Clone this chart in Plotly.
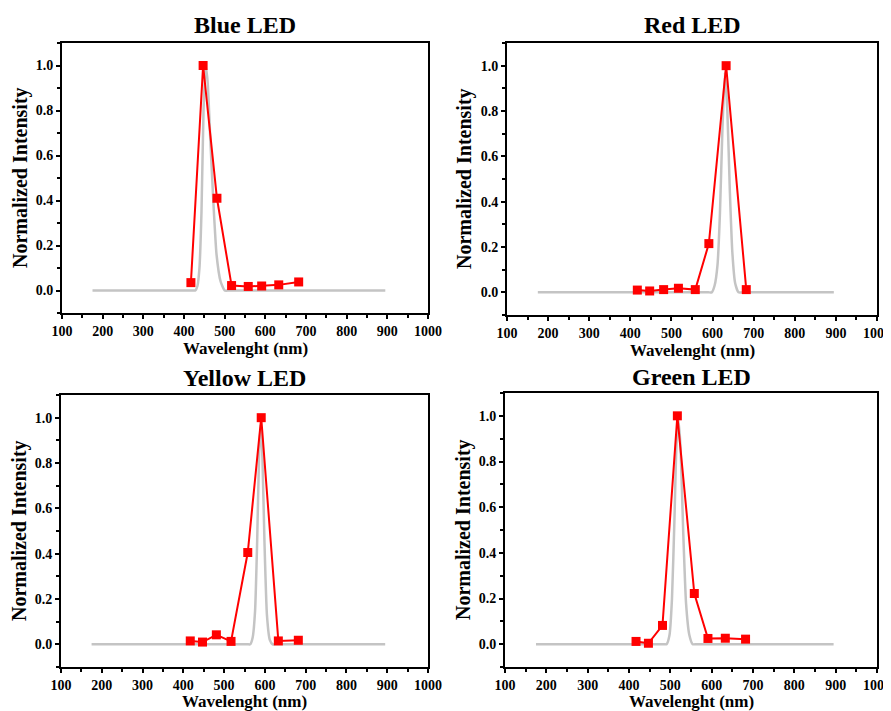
import plotly.graph_objects as go

# ---------------- data ----------------
wavelengths = [417, 447, 481, 517, 558, 591, 633, 682]

blue_vals = [0.035, 1.0, 0.41, 0.022, 0.018, 0.02, 0.025, 0.038]
red_vals = [0.01, 0.006, 0.012, 0.018, 0.012, 0.215, 1.0, 0.012]
yellow_vals = [0.015, 0.01, 0.042, 0.013, 0.405, 1.0, 0.015, 0.018]
green_vals = [0.012, 0.004, 0.082, 1.0, 0.222, 0.025, 0.026, 0.022]

blue_ref_x = [175, 300, 410, 420, 428, 433, 438, 443, 448, 453, 458, 465, 472, 480, 490, 500, 510, 520, 700, 895]
blue_ref_y = [0, 0, 0, 0, 0, 0.02, 0.1, 0.35, 0.8, 1.0, 0.93, 0.66, 0.4, 0.16, 0.04, 0, 0, 0, 0, 0]

red_ref_x = [175, 400, 570, 580, 590, 598, 605, 612, 618, 624, 630, 636, 642, 648, 655, 663, 672, 682, 800, 895]
red_ref_y = [0, 0, 0, 0, 0, 0, 0.03, 0.12, 0.35, 0.72, 0.97, 0.8, 0.45, 0.18, 0.04, 0, 0, 0, 0, 0]

yellow_ref_x = [175, 400, 540, 550, 558, 564, 570, 576, 581, 586, 590, 594, 599, 605, 612, 619, 627, 637, 800, 895]
yellow_ref_y = [0, 0, 0, 0, 0, 0, 0.03, 0.15, 0.45, 0.85, 0.97, 0.82, 0.45, 0.13, 0.02, 0, 0, 0, 0, 0]

green_ref_x = [175, 350, 465, 475, 484, 491, 498, 504, 510, 515, 520, 525, 531, 538, 546, 554, 563, 573, 750, 895]
green_ref_y = [0, 0, 0, 0, 0, 0, 0.04, 0.2, 0.55, 0.88, 0.98, 0.85, 0.5, 0.18, 0.04, 0, 0, 0, 0, 0]

titles = ["Blue LED", "Red LED", "Yellow LED", "Green LED"]
x_tickvals = [100, 200, 300, 400, 500, 600, 700, 800, 900, 1000]
y_tickvals = [0.0, 0.2, 0.4, 0.6, 0.8, 1.0]
x_title = "Wavelenght (nm)"
y_title = "Normalized Intensity"

# ---------------- layout geometry ----------------
OFF = 8                 # page (body) margin of the html page
W, H = 891 - OFF, 711 - OFF
# (left, right, top, bottom) in window pixels
boxes = [
    (62, 428, 43, 313),
    (507, 877, 43, 315),
    (61, 428, 395, 667),
    (505, 877, 393, 667),
]
title_y = [25, 25, 378, 377]
xtitle_gap = [35, 35, 34, 34]

series = [
    (blue_vals, blue_ref_x, blue_ref_y),
    (red_vals, red_ref_x, red_ref_y),
    (yellow_vals, yellow_ref_x, yellow_ref_y),
    (green_vals, green_ref_x, green_ref_y),
]


def px(v):
    return (v - OFF) / W


def py(v):
    return 1 - (v - OFF) / H


FONT = "Liberation Serif"
fig = go.Figure()
annotations = []

for i, (box, (vals, rx, ry)) in enumerate(zip(boxes, series)):
    l, r, t, b = box
    sfx = "" if i == 0 else str(i + 1)
    xa = "x" + sfx
    ya = "y" + sfx
    fig.add_trace(go.Scatter(
        x=rx, y=ry, mode="lines", xaxis=xa, yaxis=ya,
        line=dict(color="#c4c4c4", width=2.5, shape="spline", smoothing=0.5),
        showlegend=False, hoverinfo="skip"))
    fig.add_trace(go.Scatter(
        x=wavelengths, y=vals, mode="lines+markers", xaxis=xa, yaxis=ya,
        line=dict(color="#ff0000", width=2),
        marker=dict(symbol="square", size=9, color="#ff0000"),
        showlegend=False))

    common = dict(
        showline=True, linecolor="black", linewidth=2, mirror=True,
        ticks="outside", ticklen=4, tickwidth=1.5, tickcolor="black",
        showgrid=False, zeroline=False, automargin=False,
        ticklabeloverflow="allow",
        tickfont=dict(family=FONT, size=14, color="black", weight="bold"),
    )
    fig.layout["xaxis" + sfx] = dict(
        domain=[px(l), px(r)], anchor=ya, range=[100, 1000],
        tickvals=x_tickvals,
        minor=dict(ticks="outside", ticklen=3, tickwidth=1.5, dtick=50, tickcolor="black"),
        **common)
    fig.layout["yaxis" + sfx] = dict(
        domain=[py(b), py(t)], anchor=xa, range=[-0.1, 1.1],
        tickvals=y_tickvals, tickformat=".1f",
        minor=dict(ticks="outside", ticklen=3, tickwidth=1.5, dtick=0.1, tickcolor="black"),
        **common)

    cx = px((l + r) / 2)
    annotations.append(dict(
        text="<b>%s</b>" % titles[i], x=cx, y=py(title_y[i]),
        xref="paper", yref="paper", xanchor="center", yanchor="middle",
        showarrow=False, font=dict(family=FONT, size=24, color="black")))
    annotations.append(dict(
        text="<b>%s</b>" % x_title, x=cx, y=py(b + xtitle_gap[i]),
        xref="paper", yref="paper", xanchor="center", yanchor="middle",
        showarrow=False, font=dict(family=FONT, size=17, color="black")))
    annotations.append(dict(
        text="<b>%s</b>" % y_title, x=px(l - 42), y=py((t + b) / 2),
        xref="paper", yref="paper", xanchor="center", yanchor="middle",
        textangle=-90,
        showarrow=False, font=dict(family=FONT, size=20, color="black")))

fig.update_layout(
    width=W, height=H,
    margin=dict(l=0, r=0, t=0, b=0, autoexpand=False),
    paper_bgcolor="white", plot_bgcolor="white",
    annotations=annotations,
    showlegend=False,
)

fig.write_html("out.html")
